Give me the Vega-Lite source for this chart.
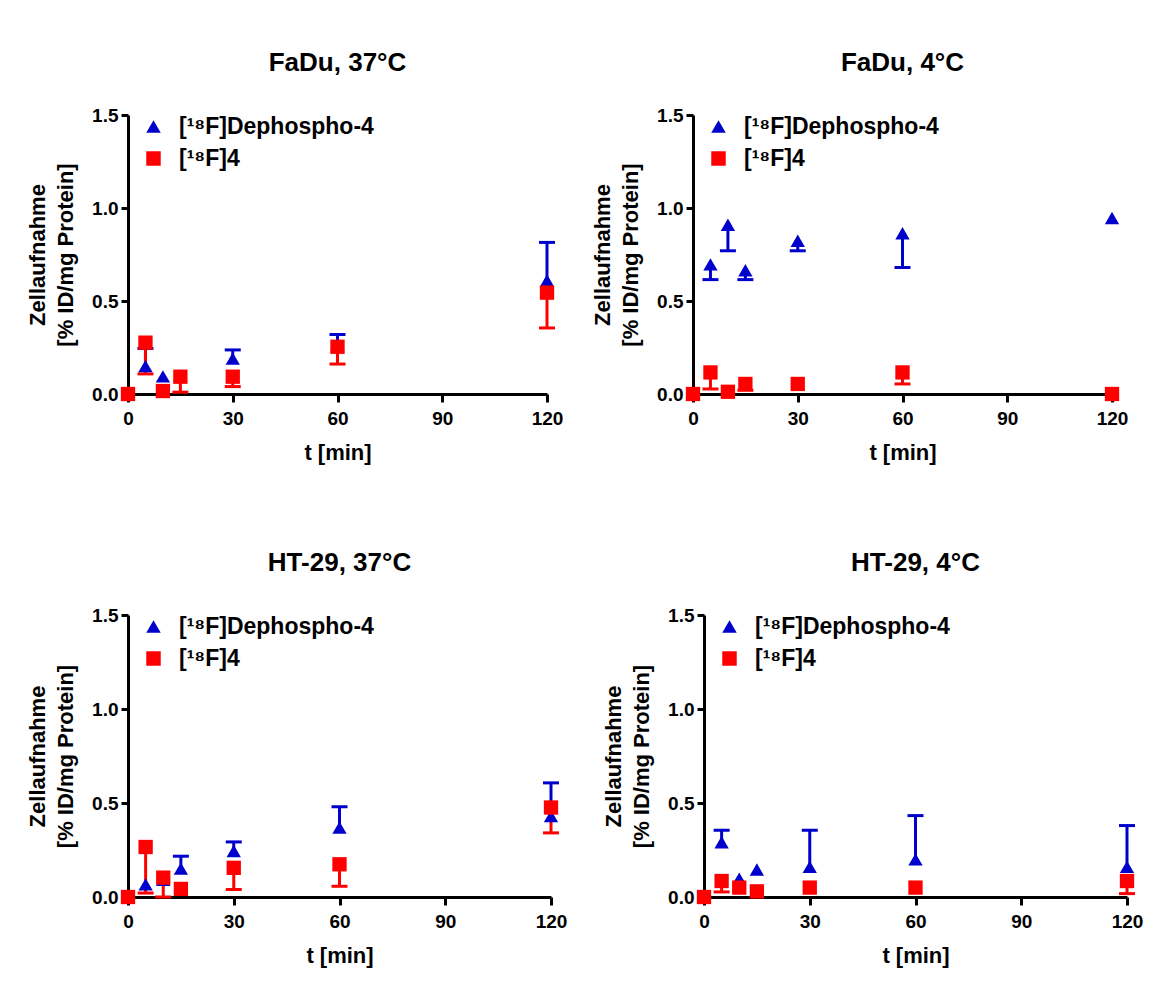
{
  "$schema": "https://vega.github.io/schema/vega-lite/v6.json",
  "background": "white",
  "padding": {"left": 26, "top": 50, "right": 10, "bottom": 10},
  "datasets": {
    "d": [
      {"panel": "FaDu, 37°C", "series": "[¹⁸F]Dephospho-4", "t": 0, "mean": 0, "end": null},
      {"panel": "FaDu, 37°C", "series": "[¹⁸F]Dephospho-4", "t": 5, "mean": 0.15, "end": 0.245},
      {"panel": "FaDu, 37°C", "series": "[¹⁸F]Dephospho-4", "t": 10, "mean": 0.095, "end": null},
      {"panel": "FaDu, 37°C", "series": "[¹⁸F]Dephospho-4", "t": 15, "mean": 0.1, "end": null},
      {"panel": "FaDu, 37°C", "series": "[¹⁸F]Dephospho-4", "t": 30, "mean": 0.19, "end": 0.237},
      {"panel": "FaDu, 37°C", "series": "[¹⁸F]Dephospho-4", "t": 60, "mean": 0.26, "end": 0.32},
      {"panel": "FaDu, 37°C", "series": "[¹⁸F]Dephospho-4", "t": 120, "mean": 0.61, "end": 0.815},
      {"panel": "FaDu, 4°C", "series": "[¹⁸F]Dephospho-4", "t": 0, "mean": 0, "end": null},
      {"panel": "FaDu, 4°C", "series": "[¹⁸F]Dephospho-4", "t": 5, "mean": 0.697, "end": 0.615},
      {"panel": "FaDu, 4°C", "series": "[¹⁸F]Dephospho-4", "t": 10, "mean": 0.91, "end": 0.77},
      {"panel": "FaDu, 4°C", "series": "[¹⁸F]Dephospho-4", "t": 15, "mean": 0.665, "end": 0.615},
      {"panel": "FaDu, 4°C", "series": "[¹⁸F]Dephospho-4", "t": 30, "mean": 0.824, "end": 0.77},
      {"panel": "FaDu, 4°C", "series": "[¹⁸F]Dephospho-4", "t": 60, "mean": 0.864, "end": 0.68},
      {"panel": "FaDu, 4°C", "series": "[¹⁸F]Dephospho-4", "t": 120, "mean": 0.946, "end": null},
      {"panel": "HT-29, 37°C", "series": "[¹⁸F]Dephospho-4", "t": 0, "mean": 0, "end": null},
      {"panel": "HT-29, 37°C", "series": "[¹⁸F]Dephospho-4", "t": 5, "mean": 0.067, "end": null},
      {"panel": "HT-29, 37°C", "series": "[¹⁸F]Dephospho-4", "t": 10, "mean": 0.092, "end": null},
      {"panel": "HT-29, 37°C", "series": "[¹⁸F]Dephospho-4", "t": 15, "mean": 0.151, "end": 0.217},
      {"panel": "HT-29, 37°C", "series": "[¹⁸F]Dephospho-4", "t": 30, "mean": 0.245, "end": 0.293},
      {"panel": "HT-29, 37°C", "series": "[¹⁸F]Dephospho-4", "t": 60, "mean": 0.369, "end": 0.48},
      {"panel": "HT-29, 37°C", "series": "[¹⁸F]Dephospho-4", "t": 120, "mean": 0.43, "end": 0.607},
      {"panel": "HT-29, 4°C", "series": "[¹⁸F]Dephospho-4", "t": 0, "mean": 0, "end": null},
      {"panel": "HT-29, 4°C", "series": "[¹⁸F]Dephospho-4", "t": 5, "mean": 0.291, "end": 0.355},
      {"panel": "HT-29, 4°C", "series": "[¹⁸F]Dephospho-4", "t": 10, "mean": 0.098, "end": null},
      {"panel": "HT-29, 4°C", "series": "[¹⁸F]Dephospho-4", "t": 15, "mean": 0.146, "end": null},
      {"panel": "HT-29, 4°C", "series": "[¹⁸F]Dephospho-4", "t": 30, "mean": 0.16, "end": 0.355},
      {"panel": "HT-29, 4°C", "series": "[¹⁸F]Dephospho-4", "t": 60, "mean": 0.2, "end": 0.433},
      {"panel": "HT-29, 4°C", "series": "[¹⁸F]Dephospho-4", "t": 120, "mean": 0.16, "end": 0.38},
      {"panel": "FaDu, 37°C", "series": "[¹⁸F]4", "t": 0, "mean": 0, "end": null},
      {"panel": "FaDu, 37°C", "series": "[¹⁸F]4", "t": 5, "mean": 0.276, "end": 0.108},
      {"panel": "FaDu, 37°C", "series": "[¹⁸F]4", "t": 10, "mean": 0.016, "end": null},
      {"panel": "FaDu, 37°C", "series": "[¹⁸F]4", "t": 15, "mean": 0.093, "end": 0.01},
      {"panel": "FaDu, 37°C", "series": "[¹⁸F]4", "t": 30, "mean": 0.093, "end": 0.04},
      {"panel": "FaDu, 37°C", "series": "[¹⁸F]4", "t": 60, "mean": 0.254, "end": 0.161},
      {"panel": "FaDu, 37°C", "series": "[¹⁸F]4", "t": 120, "mean": 0.545, "end": 0.355},
      {"panel": "FaDu, 4°C", "series": "[¹⁸F]4", "t": 0, "mean": 0, "end": null},
      {"panel": "FaDu, 4°C", "series": "[¹⁸F]4", "t": 5, "mean": 0.116, "end": 0.027},
      {"panel": "FaDu, 4°C", "series": "[¹⁸F]4", "t": 10, "mean": 0.012, "end": null},
      {"panel": "FaDu, 4°C", "series": "[¹⁸F]4", "t": 15, "mean": 0.054, "end": 0.02},
      {"panel": "FaDu, 4°C", "series": "[¹⁸F]4", "t": 30, "mean": 0.054, "end": null},
      {"panel": "FaDu, 4°C", "series": "[¹⁸F]4", "t": 60, "mean": 0.116, "end": 0.054},
      {"panel": "FaDu, 4°C", "series": "[¹⁸F]4", "t": 120, "mean": 0, "end": null},
      {"panel": "HT-29, 37°C", "series": "[¹⁸F]4", "t": 0, "mean": 0, "end": null},
      {"panel": "HT-29, 37°C", "series": "[¹⁸F]4", "t": 5, "mean": 0.266, "end": 0.021},
      {"panel": "HT-29, 37°C", "series": "[¹⁸F]4", "t": 10, "mean": 0.103, "end": 0.0},
      {"panel": "HT-29, 37°C", "series": "[¹⁸F]4", "t": 15, "mean": 0.043, "end": null},
      {"panel": "HT-29, 37°C", "series": "[¹⁸F]4", "t": 30, "mean": 0.155, "end": 0.04},
      {"panel": "HT-29, 37°C", "series": "[¹⁸F]4", "t": 60, "mean": 0.174, "end": 0.057},
      {"panel": "HT-29, 37°C", "series": "[¹⁸F]4", "t": 120, "mean": 0.476, "end": 0.341},
      {"panel": "HT-29, 4°C", "series": "[¹⁸F]4", "t": 0, "mean": 0, "end": null},
      {"panel": "HT-29, 4°C", "series": "[¹⁸F]4", "t": 5, "mean": 0.085, "end": 0.027},
      {"panel": "HT-29, 4°C", "series": "[¹⁸F]4", "t": 10, "mean": 0.05, "end": null},
      {"panel": "HT-29, 4°C", "series": "[¹⁸F]4", "t": 15, "mean": 0.03, "end": null},
      {"panel": "HT-29, 4°C", "series": "[¹⁸F]4", "t": 30, "mean": 0.05, "end": null},
      {"panel": "HT-29, 4°C", "series": "[¹⁸F]4", "t": 60, "mean": 0.05, "end": null},
      {"panel": "HT-29, 4°C", "series": "[¹⁸F]4", "t": 120, "mean": 0.085, "end": 0.018}
    ]
  },
  "config": {
    "view": {"stroke": null},
    "font": "Liberation Sans",
    "axis": {
      "domainColor": "black", "domainWidth": 3, "tickColor": "black", "tickWidth": 3,
      "grid": false, "labelFont": "Liberation Sans", "labelFontSize": 19, "labelFontWeight": "bold",
      "labelColor": "black", "titleFont": "Liberation Sans", "titleFontSize": 22, "titleFontWeight": "bold",
      "titleColor": "black", "labelFlush": false, "labelOverlap": false
    },
    "axisX": {"tickSize": 8, "labelPadding": 7, "titlePadding": 14},
    "axisY": {"tickSize": 7, "labelPadding": 3, "titlePadding": 14, "titleLineHeight": 28},
    "title": {"font": "Liberation Sans", "fontSize": 26, "fontWeight": "bold", "color": "black", "anchor": "middle", "frame": "group", "offset": 30, "baseline": "alphabetic"}
  },
  "spacing": 87,
  "resolve": {"scale": {"color": "independent", "shape": "independent"}, "legend": {"color": "independent", "shape": "independent"}},
  "vconcat": [
    {
      "spacing": 146,
      "bounds": "flush",
      "resolve": {"scale": {"color": "independent", "shape": "independent"}, "legend": {"color": "independent", "shape": "independent"}},
      "hconcat": [
        {
          "title": "FaDu, 37°C",
          "width": 419, "height": 279,
          "data": {"name": "d"},
          "transform": [{"filter": "datum.panel == 'FaDu, 37°C'"}],
          "encoding": {
            "x": {"field": "t", "type": "quantitative", "scale": {"domain": [0, 120], "nice": false}, "axis": {"values": [0, 30, 60, 90, 120], "title": "t [min]"}},
            "y": {"field": "mean", "type": "quantitative", "scale": {"domain": [0, 1.5], "nice": false}, "axis": {"values": [0, 0.5, 1, 1.5], "format": ".1f", "title": ["Zellaufnahme", "[% ID/mg Protein]"]}},
            "color": {"field": "series", "type": "nominal", "scale": {"domain": ["[¹⁸F]Dephospho-4", "[¹⁸F]4"], "range": ["#0000CC", "#FF0000"]}, "legend": {"title": null, "orient": "none", "legendX": 14, "legendY": 0, "padding": 0, "labelFont": "Liberation Sans", "labelFontSize": 23, "labelFontWeight": "bold", "labelColor": "black", "labelLimit": 500, "symbolSize": 210, "rowPadding": 8, "labelOffset": 14, "symbolStrokeWidth": 0, "symbolOpacity": 1}}
          },
          "layer": [
            {"transform": [{"filter": "datum.end != null"}], "mark": {"type": "rule", "strokeWidth": 3}, "encoding": {"y2": {"field": "end"}}},
            {"transform": [{"filter": "datum.end != null"}], "mark": {"type": "rule", "strokeWidth": 3, "xOffset": -8, "x2Offset": 8}, "encoding": {"x2": {"field": "t"}, "y": {"field": "end", "type": "quantitative"}}},
            {"mark": {"type": "point", "filled": true, "size": 205, "opacity": 1}, "encoding": {"shape": {"field": "series", "type": "nominal", "scale": {"domain": ["[¹⁸F]Dephospho-4", "[¹⁸F]4"], "range": ["triangle-up", "square"]}, "legend": {"title": null, "orient": "none", "legendX": 14, "legendY": 0, "padding": 0, "labelFont": "Liberation Sans", "labelFontSize": 23, "labelFontWeight": "bold", "labelColor": "black", "labelLimit": 500, "symbolSize": 210, "rowPadding": 8, "labelOffset": 14, "symbolStrokeWidth": 0, "symbolOpacity": 1}}}}
          ]
        },
        {
          "title": "FaDu, 4°C",
          "width": 419, "height": 279,
          "data": {"name": "d"},
          "transform": [{"filter": "datum.panel == 'FaDu, 4°C'"}],
          "encoding": {
            "x": {"field": "t", "type": "quantitative", "scale": {"domain": [0, 120], "nice": false}, "axis": {"values": [0, 30, 60, 90, 120], "title": "t [min]"}},
            "y": {"field": "mean", "type": "quantitative", "scale": {"domain": [0, 1.5], "nice": false}, "axis": {"values": [0, 0.5, 1, 1.5], "format": ".1f", "title": ["Zellaufnahme", "[% ID/mg Protein]"]}},
            "color": {"field": "series", "type": "nominal", "scale": {"domain": ["[¹⁸F]Dephospho-4", "[¹⁸F]4"], "range": ["#0000CC", "#FF0000"]}, "legend": {"title": null, "orient": "none", "legendX": 14, "legendY": 0, "padding": 0, "labelFont": "Liberation Sans", "labelFontSize": 23, "labelFontWeight": "bold", "labelColor": "black", "labelLimit": 500, "symbolSize": 210, "rowPadding": 8, "labelOffset": 14, "symbolStrokeWidth": 0, "symbolOpacity": 1}}
          },
          "layer": [
            {"transform": [{"filter": "datum.end != null"}], "mark": {"type": "rule", "strokeWidth": 3}, "encoding": {"y2": {"field": "end"}}},
            {"transform": [{"filter": "datum.end != null"}], "mark": {"type": "rule", "strokeWidth": 3, "xOffset": -8, "x2Offset": 8}, "encoding": {"x2": {"field": "t"}, "y": {"field": "end", "type": "quantitative"}}},
            {"mark": {"type": "point", "filled": true, "size": 205, "opacity": 1}, "encoding": {"shape": {"field": "series", "type": "nominal", "scale": {"domain": ["[¹⁸F]Dephospho-4", "[¹⁸F]4"], "range": ["triangle-up", "square"]}, "legend": {"title": null, "orient": "none", "legendX": 14, "legendY": 0, "padding": 0, "labelFont": "Liberation Sans", "labelFontSize": 23, "labelFontWeight": "bold", "labelColor": "black", "labelLimit": 500, "symbolSize": 210, "rowPadding": 8, "labelOffset": 14, "symbolStrokeWidth": 0, "symbolOpacity": 1}}}}
          ]
        }
      ]
    },
    {
      "spacing": 153,
      "bounds": "flush",
      "resolve": {"scale": {"color": "independent", "shape": "independent"}, "legend": {"color": "independent", "shape": "independent"}},
      "hconcat": [
        {
          "title": "HT-29, 37°C",
          "width": 423, "height": 282,
          "data": {"name": "d"},
          "transform": [{"filter": "datum.panel == 'HT-29, 37°C'"}],
          "encoding": {
            "x": {"field": "t", "type": "quantitative", "scale": {"domain": [0, 120], "nice": false}, "axis": {"values": [0, 30, 60, 90, 120], "title": "t [min]"}},
            "y": {"field": "mean", "type": "quantitative", "scale": {"domain": [0, 1.5], "nice": false}, "axis": {"values": [0, 0.5, 1, 1.5], "format": ".1f", "title": ["Zellaufnahme", "[% ID/mg Protein]"]}},
            "color": {"field": "series", "type": "nominal", "scale": {"domain": ["[¹⁸F]Dephospho-4", "[¹⁸F]4"], "range": ["#0000CC", "#FF0000"]}, "legend": {"title": null, "orient": "none", "legendX": 14, "legendY": 0, "padding": 0, "labelFont": "Liberation Sans", "labelFontSize": 23, "labelFontWeight": "bold", "labelColor": "black", "labelLimit": 500, "symbolSize": 210, "rowPadding": 8, "labelOffset": 14, "symbolStrokeWidth": 0, "symbolOpacity": 1}}
          },
          "layer": [
            {"transform": [{"filter": "datum.end != null"}], "mark": {"type": "rule", "strokeWidth": 3}, "encoding": {"y2": {"field": "end"}}},
            {"transform": [{"filter": "datum.end != null"}], "mark": {"type": "rule", "strokeWidth": 3, "xOffset": -8, "x2Offset": 8}, "encoding": {"x2": {"field": "t"}, "y": {"field": "end", "type": "quantitative"}}},
            {"mark": {"type": "point", "filled": true, "size": 205, "opacity": 1}, "encoding": {"shape": {"field": "series", "type": "nominal", "scale": {"domain": ["[¹⁸F]Dephospho-4", "[¹⁸F]4"], "range": ["triangle-up", "square"]}, "legend": {"title": null, "orient": "none", "legendX": 14, "legendY": 0, "padding": 0, "labelFont": "Liberation Sans", "labelFontSize": 23, "labelFontWeight": "bold", "labelColor": "black", "labelLimit": 500, "symbolSize": 210, "rowPadding": 8, "labelOffset": 14, "symbolStrokeWidth": 0, "symbolOpacity": 1}}}}
          ]
        },
        {
          "title": "HT-29, 4°C",
          "width": 423, "height": 282,
          "data": {"name": "d"},
          "transform": [{"filter": "datum.panel == 'HT-29, 4°C'"}],
          "encoding": {
            "x": {"field": "t", "type": "quantitative", "scale": {"domain": [0, 120], "nice": false}, "axis": {"values": [0, 30, 60, 90, 120], "title": "t [min]"}},
            "y": {"field": "mean", "type": "quantitative", "scale": {"domain": [0, 1.5], "nice": false}, "axis": {"values": [0, 0.5, 1, 1.5], "format": ".1f", "title": ["Zellaufnahme", "[% ID/mg Protein]"]}},
            "color": {"field": "series", "type": "nominal", "scale": {"domain": ["[¹⁸F]Dephospho-4", "[¹⁸F]4"], "range": ["#0000CC", "#FF0000"]}, "legend": {"title": null, "orient": "none", "legendX": 14, "legendY": 0, "padding": 0, "labelFont": "Liberation Sans", "labelFontSize": 23, "labelFontWeight": "bold", "labelColor": "black", "labelLimit": 500, "symbolSize": 210, "rowPadding": 8, "labelOffset": 14, "symbolStrokeWidth": 0, "symbolOpacity": 1}}
          },
          "layer": [
            {"transform": [{"filter": "datum.end != null"}], "mark": {"type": "rule", "strokeWidth": 3}, "encoding": {"y2": {"field": "end"}}},
            {"transform": [{"filter": "datum.end != null"}], "mark": {"type": "rule", "strokeWidth": 3, "xOffset": -8, "x2Offset": 8}, "encoding": {"x2": {"field": "t"}, "y": {"field": "end", "type": "quantitative"}}},
            {"mark": {"type": "point", "filled": true, "size": 205, "opacity": 1}, "encoding": {"shape": {"field": "series", "type": "nominal", "scale": {"domain": ["[¹⁸F]Dephospho-4", "[¹⁸F]4"], "range": ["triangle-up", "square"]}, "legend": {"title": null, "orient": "none", "legendX": 14, "legendY": 0, "padding": 0, "labelFont": "Liberation Sans", "labelFontSize": 23, "labelFontWeight": "bold", "labelColor": "black", "labelLimit": 500, "symbolSize": 210, "rowPadding": 8, "labelOffset": 14, "symbolStrokeWidth": 0, "symbolOpacity": 1}}}}
          ]
        }
      ]
    }
  ]
}
